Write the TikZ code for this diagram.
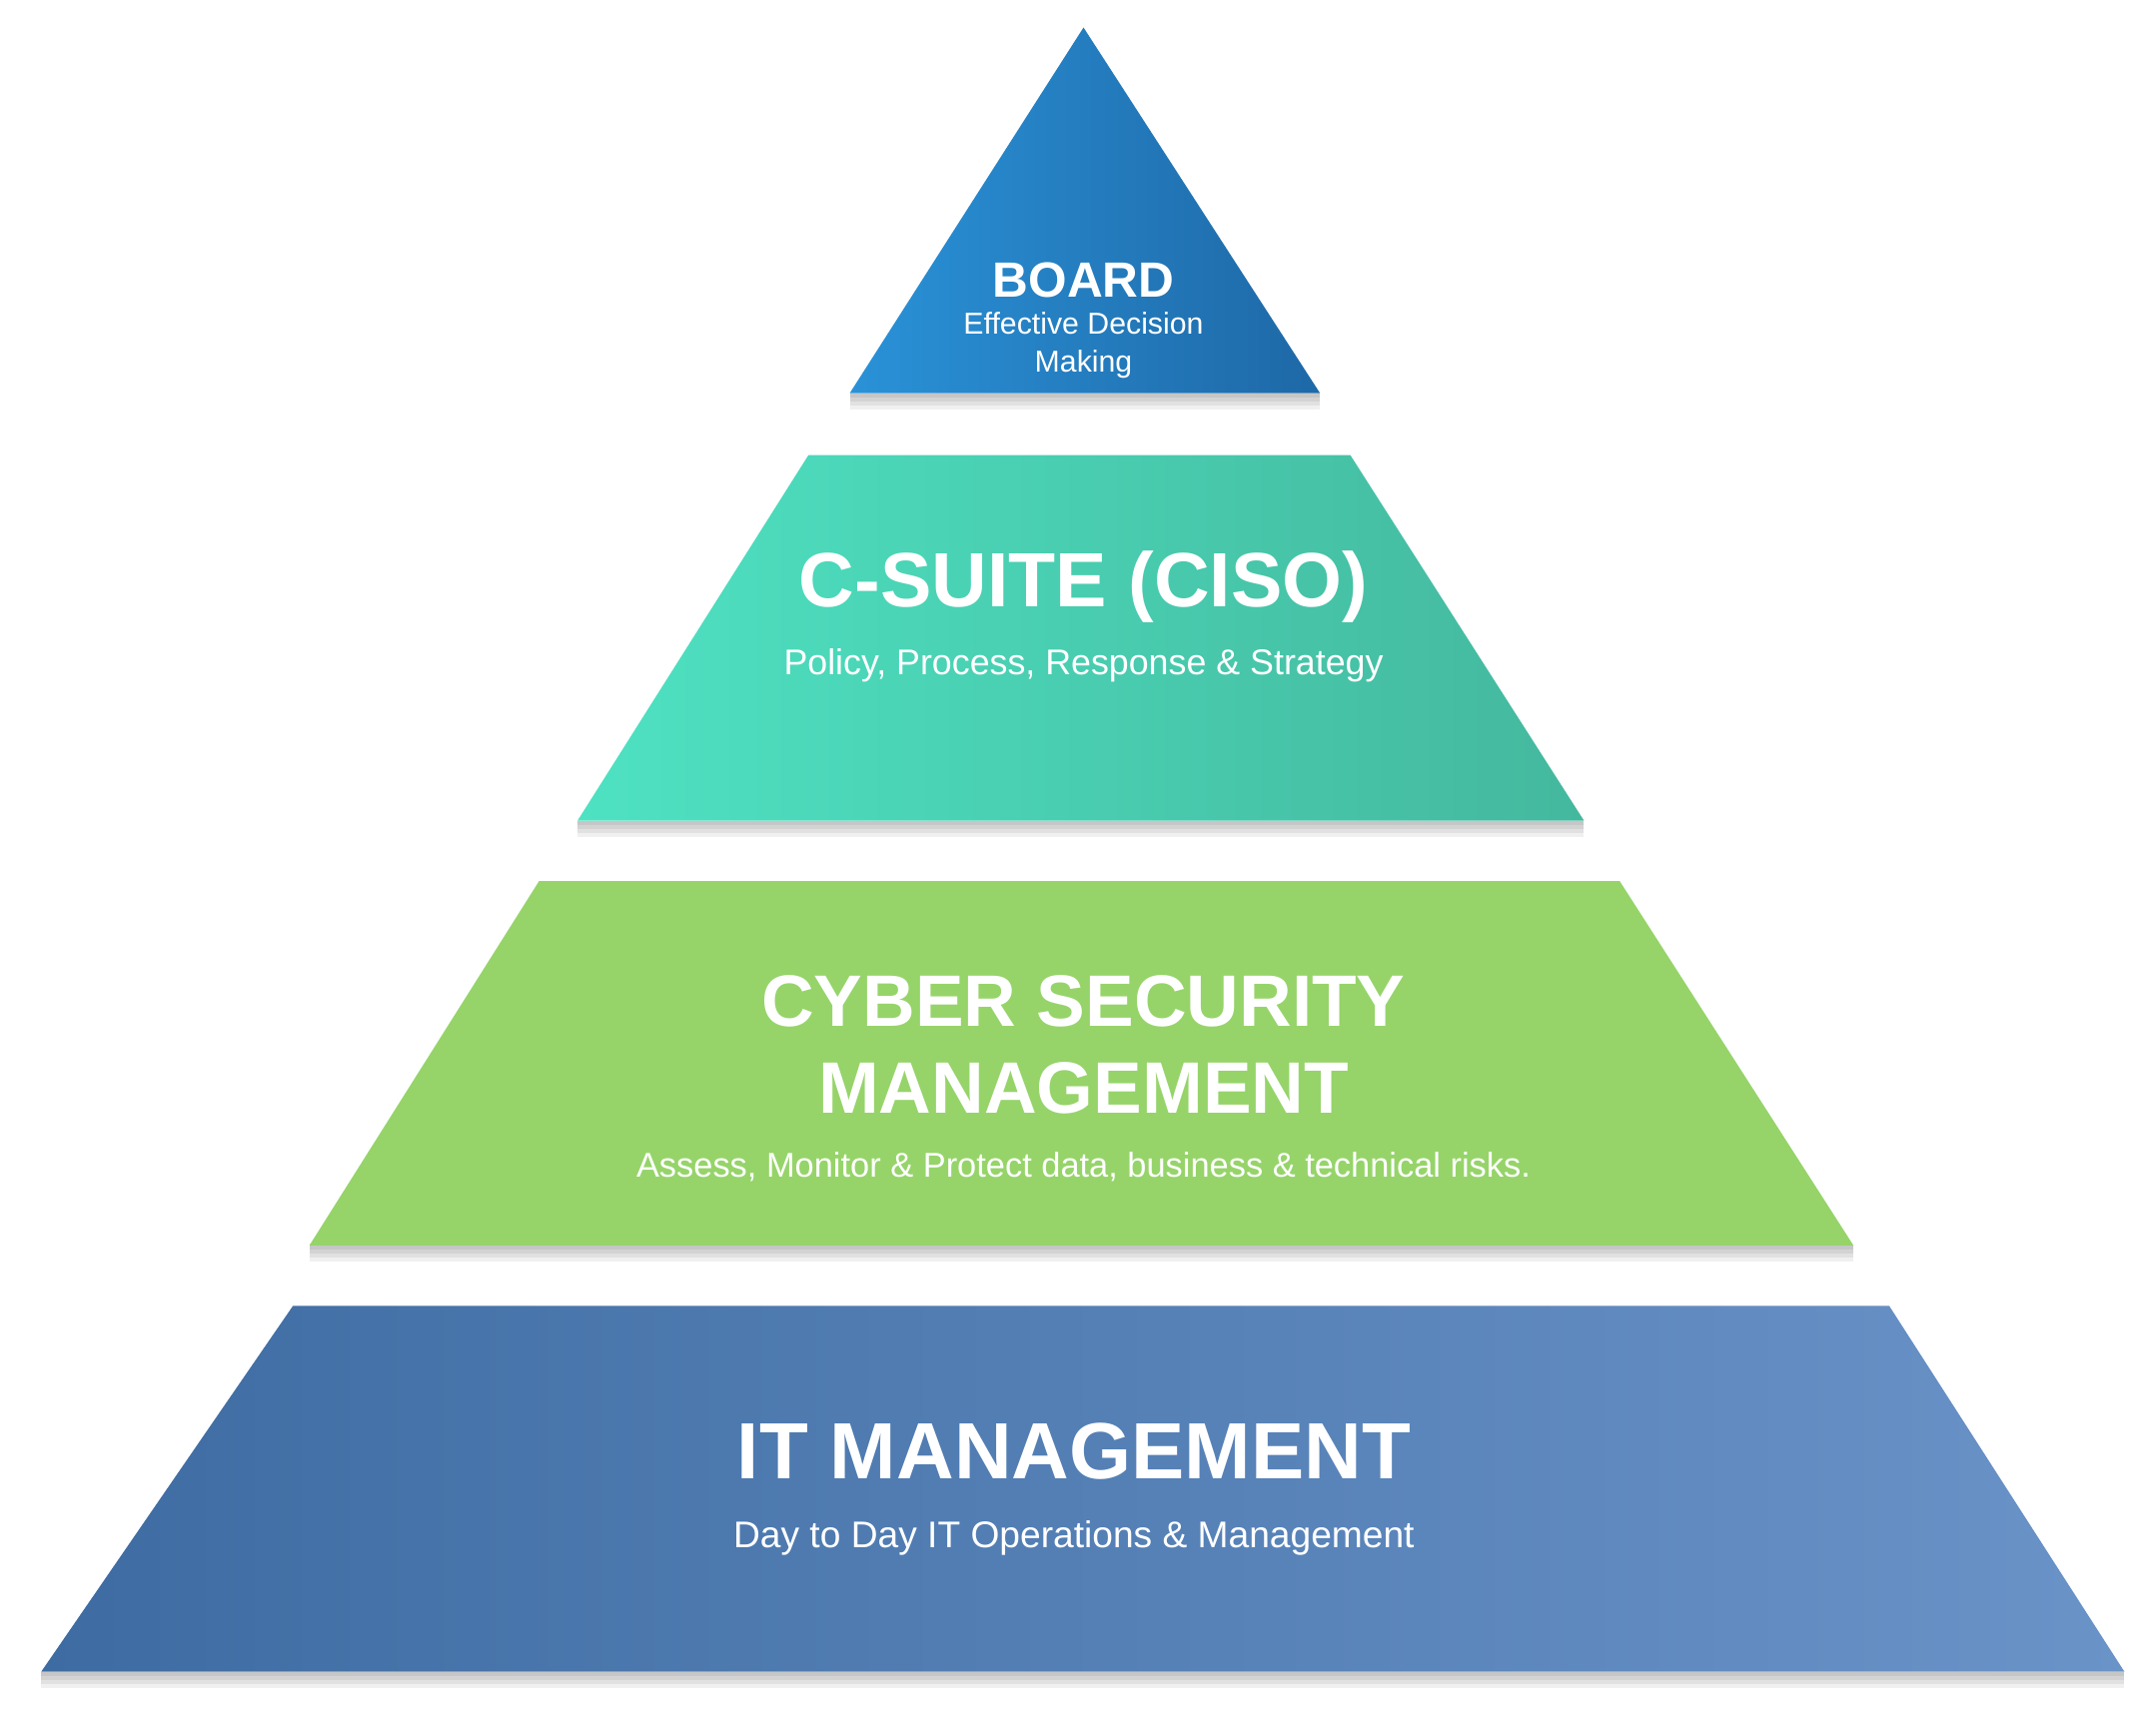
\documentclass[tikz,border=0pt]{standalone}
\usepackage{fontspec}
\setmainfont{Liberation Sans}
\definecolor{bL}{RGB}{42,146,216}\definecolor{bR}{RGB}{30,104,166}
\definecolor{cL}{RGB}{78,226,194}\definecolor{cR}{RGB}{68,184,158}
\definecolor{gG}{RGB}{150,212,106}
\definecolor{iL}{RGB}{62,108,162}\definecolor{iR}{RGB}{106,147,200}
\begin{document}
\begin{tikzpicture}[x=1pt,y=-1pt,
  ttl/.style={text=white,font=\bfseries,align=center,inner sep=0},
  sub/.style={text=white,align=center,inner sep=0},
  shad/.style={fill=black,opacity=0.06}]
\fill[white] (0,0) rectangle (1568,1255);
\useasboundingbox (0,0) rectangle (1568,1255);
\foreach \d in {3,6,9,12}{
  \fill[shad] (618,286) -- (960,286) -- (960,286+\d) -- (618,286+\d) -- cycle;
  \fill[shad] (420,597) -- (1152,597) -- (1152,597+\d) -- (420,597+\d) -- cycle;
  \fill[shad] (225,906) -- (1348,906) -- (1348,906+\d) -- (225,906+\d) -- cycle;
  \fill[shad] (30,1216) -- (1545,1216) -- (1545,1216+\d) -- (30,1216+\d) -- cycle;
}
\shade[left color=bL,right color=bR] (788,20) -- (960,286) -- (618,286) -- cycle;
\shade[left color=cL,right color=cR] (588,331) -- (982,331) -- (1152,597) -- (420,597) -- cycle;
\fill[gG] (392,641) -- (1178,641) -- (1348,906) -- (225,906) -- cycle;
\shade[left color=iL,right color=iR] (213,950) -- (1374,950) -- (1545,1216) -- (30,1216) -- cycle;

\node[ttl,font=\bfseries\fontsize{36}{40}\selectfont] (bt) at (788,204) {BOARD};
\node[sub,font=\fontsize{22}{28}\selectfont] (bs) at (788,251) {Effective Decision\\Making};
\node[ttl,font=\bfseries\fontsize{56}{60}\selectfont] (ct) at (788,427) {C-SUITE (CISO)};
\node[sub,font=\fontsize{26}{30}\selectfont] (cs) at (788,484) {Policy, Process, Response \& Strategy};
\node[ttl,font=\bfseries\fontsize{53}{63}\selectfont] (yt) at (788,760) {CYBER SECURITY\\MANAGEMENT};
\node[sub,font=\fontsize{25}{30}\selectfont] (ys) at (788,849) {Assess, Monitor \& Protect data, business \& technical risks.};
\node[ttl,font=\bfseries\fontsize{58}{62}\selectfont] (it) at (781,1056) {IT MANAGEMENT};
\node[sub,font=\fontsize{27}{30}\selectfont] (is) at (781,1119) {Day to Day IT Operations \& Management};
\end{tikzpicture}
\end{document}
